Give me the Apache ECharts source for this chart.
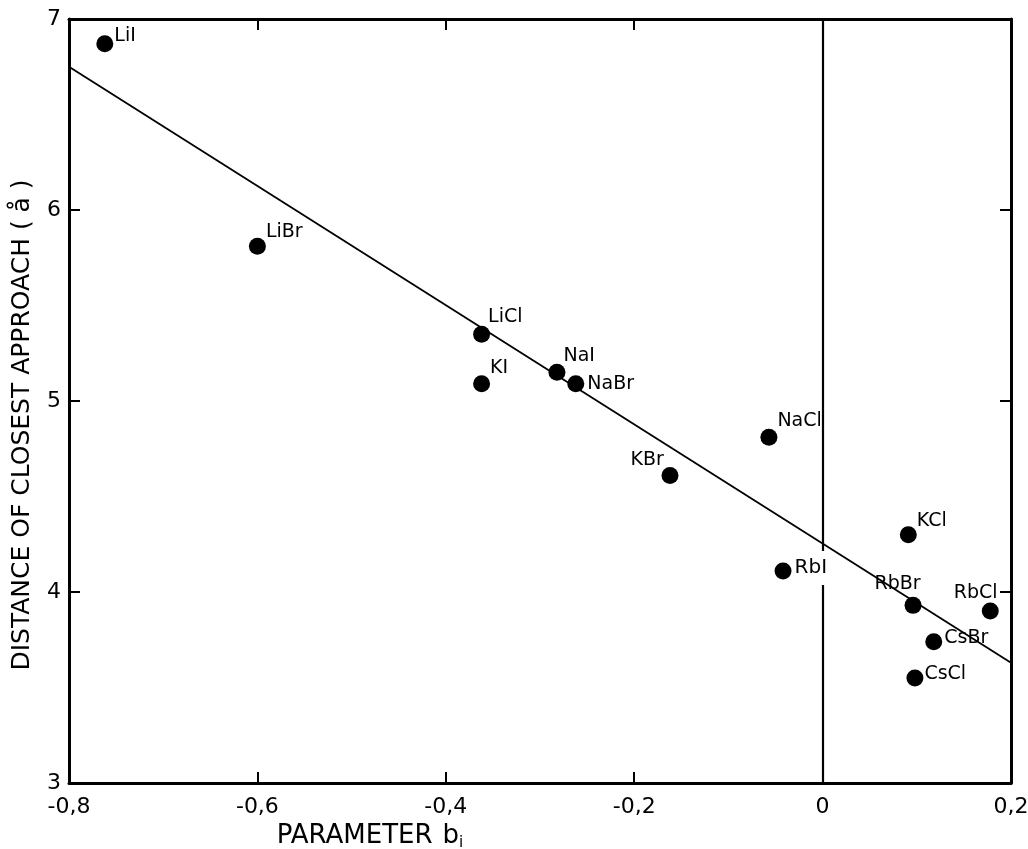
<!DOCTYPE html>
<html><head><meta charset="utf-8">
<script src="https://cdn.jsdelivr.net/npm/echarts@6/dist/echarts.min.js"></script>
<style>html,body{margin:0;padding:0;background:#fff}#c{width:1028px;height:849px}</style>
</head><body><div id="c"></div>
<script>
// ---- data ----
const saltNames = ['LiI','LiBr','LiCl','KI','NaI','NaBr','KBr','NaCl','RbI','KCl','RbBr','RbCl','CsBr','CsCl'];
const paramB = [-0.762,-0.600,-0.362,-0.362,-0.282,-0.262,-0.162,-0.057,-0.042,0.091,0.096,0.178,0.118,0.098];
const closestApproach = [6.87,5.81,5.35,5.09,5.15,5.09,4.61,4.81,4.11,4.30,3.93,3.90,3.74,3.55];
const fitX = [-0.8, 0.2];
const fitY = [6.75, 3.63];
const xMin = -0.8, xMax = 0.2, xStep = 0.2;
const yMin = 3, yMax = 7, yStep = 1;

// ---- style (label placement per point, not data) ----
const labelOffsets = {
  LiI:[1,-8], LiBr:[0,-14], LiCl:[-2,-17], KI:[0,-16], NaI:[-2,-16], NaBr:[3,0],
  KBr:[-48,-15], NaCl:[0,-16], RbI:[1,-3], KCl:[0,-14], RbBr:[-47,-21],
  RbCl:[-45,-18], CsBr:[2,-4], CsCl:[1,-4]
};
const FONT = 'DejaVu Sans';
const fmtNum = v => { const r = Math.round(v*10)/10; return r === 0 ? '0' : (Number.isInteger(r) ? String(r) : r.toFixed(1).replace('.', ',')); };

const points = saltNames.map((n,i) => {
  const lab = { offset: labelOffsets[n] };
  if (n === 'RbI') { lab.backgroundColor = '#fff'; lab.padding = [7, 2, 7, 2]; lab.fontSize = 20; }
  return { value: [paramB[i], closestApproach[i]], name: n, label: lab };
});

const chart = echarts.init(document.getElementById('c'), null, {renderer:'canvas'});
const axisLine = { show:true, onZero:false, lineStyle:{ color:'#000', width:3 } };
const tick = { show:true, inside:true, length:11, lineStyle:{color:'#000',width:2} };
chart.setOption({
  backgroundColor:'#fff',
  animation:false,
  grid:{ left:69, right:17, top:19, bottom:66, outerBoundsMode:'none', containLabel:false },
  xAxis:[
    { type:'value', min:xMin, max:xMax, interval:xStep, position:'bottom',
      axisLine, axisTick:tick, splitLine:{show:false},
      axisLabel:{ formatter:fmtNum, color:'#000', fontFamily:FONT, fontSize:22, margin:13 },
      name:'{a|PARAMETER}   {a|b}{s|i}', nameLocation:'middle', nameGap:36,
      nameTextStyle:{ padding:[0,340,0,0], rich:{ a:{fontFamily:FONT, fontSize:26, color:'#000'}, s:{fontFamily:FONT, fontSize:15, color:'#000', verticalAlign:'bottom', padding:[14,0,0,0]} } }
    },
    { type:'value', min:xMin, max:xMax, interval:xStep, position:'top',
      axisLine, axisTick:tick, axisLabel:{show:false}, splitLine:{show:false} }
  ],
  yAxis:[
    { type:'value', min:yMin, max:yMax, interval:yStep, position:'left',
      axisLine, axisTick:tick, splitLine:{show:false},
      axisLabel:{ formatter:fmtNum, color:'#000', fontFamily:FONT, fontSize:22, margin:8 },
      name:'DISTANCE OF CLOSEST APPROACH ( å )', nameLocation:'middle', nameGap:34,
      nameTextStyle:{ fontFamily:FONT, fontSize:25, color:'#000', padding:[0,48,0,0] }
    },
    { type:'value', min:yMin, max:yMax, interval:yStep, position:'right',
      axisLine, axisTick:tick, axisLabel:{show:false}, splitLine:{show:false} }
  ],
  series:[
    { type:'line', data: fitX.map((x,i)=>[x, fitY[i]]), symbol:'none',
      lineStyle:{ color:'#000', width:1.8 }, z:2,
      markLine:{ silent:true, symbol:'none', label:{show:false},
        lineStyle:{ color:'#000', width:2.2, type:'solid' }, data:[{ xAxis:0 }] } },
    { type:'scatter', data: points, symbolSize:17, itemStyle:{ color:'#000', opacity:1 }, z:5,
      label:{ show:true, position:'right', distance:0, formatter:p=>p.name,
        color:'#000', fontFamily:FONT, fontSize:19 } }
  ]
});
</script></body></html>
